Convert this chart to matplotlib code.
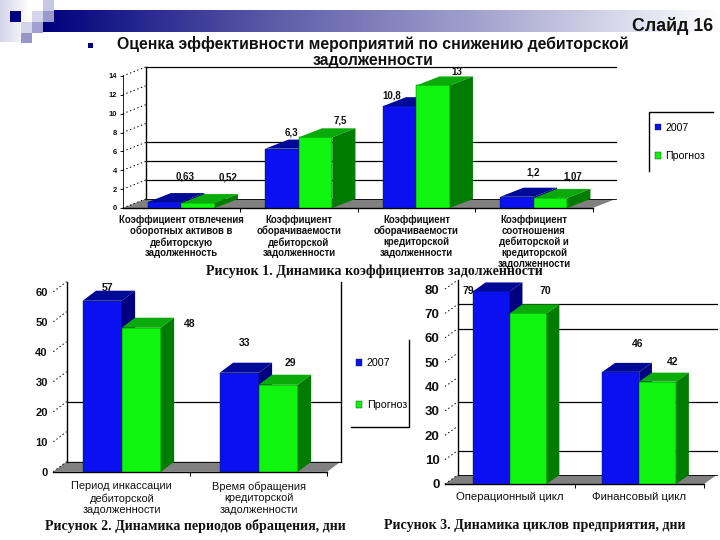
import numpy as np
import matplotlib
matplotlib.use("Agg")
import matplotlib.pyplot as plt
from matplotlib.patches import Polygon, Rectangle
from matplotlib.colors import LinearSegmentedColormap

W, H = 720, 540
SANS = "Liberation Sans"
SERIF = "Liberation Serif"

series_names = ["2007", "Прогноз"]

cats1 = ["Коэффициент отвлечения\nоборотных активов в\nдебиторскую\nзадолженность",
         "Коэффициент\nоборачиваемости\nдебиторской\nзадолженности",
         "Коэффициент\nоборачиваемости\nкредиторской\nзадолженности",
         "Коэффициент\nсоотношения\nдебиторской и\nкредиторской\nзадолженности"]
vals1_2007 = [0.63, 6.3, 10.8, 1.2]
vals1_prog = [0.52, 7.5, 13, 1.07]
text1_2007 = ["0,63", "6,3", "10,8", "1,2"]
text1_prog = ["0,52", "7,5", "13", "1,07"]
ticks1 = [0, 2, 4, 6, 8, 10, 12, 14]
grid1 = [2, 4, 6, 14]

cats2 = ["Период инкассации\nдебиторской\nзадолженности",
         "Время обращения\nкредиторской\nзадолженности"]
vals2_2007 = [57, 33]
vals2_prog = [48, 29]
ticks2 = [0, 10, 20, 30, 40, 50, 60]
grid2 = [20]

cats3 = ["Операционный цикл", "Финансовый цикл"]
vals3_2007 = [79, 46]
vals3_prog = [70, 42]
ticks3 = [0, 10, 20, 30, 40, 50, 60, 70, 80]
grid3 = [10, 30, 60, 70]

BLUE = ("#0a10f0", "#000a96", "#000080")
GREEN = ("#10f510", "#0aaa0a", "#007d00")
FLOOR = "#808080"

fig = plt.figure(figsize=(W / 100, H / 100), dpi=100, facecolor="white")

# Slide background layer, in pixel units
bg = fig.add_axes([0, 0, 1, 1], zorder=0)
cmap = LinearSegmentedColormap.from_list("band", ["#00007d", "#5a5aa8", "#a8a8d2", "#ffffff"])
bg.imshow(np.linspace(0, 1, 512)[None, :], extent=(43, 720, 32, 10), cmap=cmap,
          aspect="auto", zorder=1)
fade = LinearSegmentedColormap.from_list("fade", ["#d4d4ea", "#ffffff"])
bg.imshow(np.linspace(0, 1, 64)[None, :], extent=(0, 30, 42, 0), cmap=fade, aspect="auto", zorder=1)
bg.set_xlim(0, W)
bg.set_ylim(H, 0)
bg.axis("off")
for x, y, w, h, c in [(43, 0, 11, 10.5, "#c8c8e4"),
                      (10, 10.5, 11, 11, "#000080"), (32, 10.5, 11, 11, "#d4d4ea"), (43, 10.5, 11, 11, "#9a9acc"),
                      (21, 21.5, 11, 11, "#d4d4ea"), (32, 21.5, 11, 11, "#a0a0d0"),
                      (21, 32.5, 11, 10.5, "#9696c8")]:
    bg.add_patch(Rectangle((x, y), w, h, fc=c, ec="none", zorder=2))
bg.add_patch(Rectangle((87.5, 43), 5, 5, fc="#000080", ec="none"))
bg.text(713, 26, "Слайд 16", ha="right", va="center", family=SANS, weight="bold", fontsize=12.8, color="#111111")
bg.text(373, 44, "Оценка эффективности мероприятий по снижению дебиторской", ha="center", va="center",
        family=SANS, weight="bold", fontsize=11.45, color="#111111")
bg.text(373, 61, "задолженности", ha="center", va="center", family=SANS, weight="bold", fontsize=11.45, color="#111111")
for x, y, s in [(374.5, 271.5, "Рисунок 1. Динамика коэффициентов задолженности"),
                (195, 526, "Рисунок 2. Динамика периодов обращения, дни"),
                (534.5, 526, "Рисунок 3. Динамика циклов предприятия, дни")]:
    bg.text(x, y, s, ha="center", va="center", family=SERIF, weight="bold", fontsize=10.05, color="#111111")

# Partial legend frames
bg.plot([649, 649, 713], [171, 112, 112], color="black", lw=1)
bg.plot([351, 409, 409], [427, 427, 340], color="black", lw=1)


def chart(box, cats, s1, s2, ymax, ticks, grid, depth, tlabels, offs,
          tick_fs, tick_w, cat_fs, cat_w, lab_fs, lab_w, cat_pad, cat_ls, wall_right=False,
          lab_z=1, left_spine=False):
    x0, x1, ytop, y0 = box
    ax = fig.add_axes([x0 / W, 1 - y0 / H, (x1 - x0) / W, (y0 - ytop) / H], zorder=2)
    ax.patch.set_alpha(0)
    n = len(cats)
    ax.set_xlim(0, n)
    ax.set_ylim(0, ymax)
    dx = depth[0] / ((x1 - x0) / n)
    dy = depth[1] / ((y0 - ytop) / ymax)
    # floor
    ax.add_patch(Polygon([(0, 0), (dx, dy), (n + dx, dy), (n, 0)], fc=FLOOR, ec="none", clip_on=False, zorder=1))
    # walls and grid
    for v in grid:
        ax.plot([dx, n + dx], [v + dy, v + dy], color="black", lw=0.9, clip_on=False, zorder=1.2)
    wtop = ymax + dy
    ax.plot([dx, dx], [dy, wtop], color="black", lw=1, clip_on=False, zorder=1.2)
    ax.plot([dx, n + dx], [dy, dy], color="black", lw=0.6, clip_on=False, zorder=1.2)
    if wall_right:
        ax.plot([n + dx, n + dx], [dy, wtop], color="black", lw=1, clip_on=False, zorder=1.2)
    for v in ticks:
        ax.plot([0, dx], [v, v + dy], color="black", lw=0.7, ls=(0, (1.5, 2.5)), clip_on=False, zorder=1.1)
    # bars
    bw = 0.285
    xs = np.arange(n) + 0.5
    handles = []
    for k, (vals, cols) in enumerate(zip((s1, s2), (BLUE, GREEN))):
        pos = xs + (k - 0.5) * bw
        bars = ax.bar(pos, vals, width=bw, color=cols[0], edgecolor="#003000", linewidth=0.3, zorder=3 + k)
        handles.append(bars)
        for p, v in zip(pos, vals):
            l, r = p - bw / 2, p + bw / 2
            ax.add_patch(Polygon([(l, v), (l + dx, v + dy), (r + dx, v + dy), (r, v)], fc=cols[1], ec="none",
                                 clip_on=False, zorder=3 + k))
            ax.add_patch(Polygon([(r, 0), (r + dx, dy), (r + dx, v + dy), (r, v)], fc=cols[2], ec="none",
                                 clip_on=False, zorder=3 + k))
    # value labels, offset in pixels from the top of each bar
    allpos = [(xs[i] + (k - 0.5) * bw, (s1, s2)[k][i], tlabels[k][i], offs[k][i]) for k in range(2) for i in range(n)]
    for p, v, t, o in allpos:
        ax.annotate(t, (p, v), xytext=(o[0] * 0.72, o[1] * 0.72), textcoords="offset points", ha="center",
                    va="center", family=SANS, weight=lab_w, fontsize=lab_fs, color="#111111", zorder=lab_z,
                    annotation_clip=False)
    # axes furniture
    for s in ("top", "right"):
        ax.spines[s].set_visible(False)
    ax.spines["left"].set_visible(left_spine)
    ax.spines["left"].set_linewidth(0.6)
    ax.spines["bottom"].set_linewidth(1)
    ax.set_yticks(ticks)
    ax.set_yticklabels([str(t) for t in ticks], family=SANS, weight=tick_w, fontsize=tick_fs, color="#111111")
    ax.tick_params(axis="y", length=2 if left_spine else 0, width=0.6, pad=2 if left_spine else 4)
    ax.set_xticks(xs)
    ax.set_xticklabels(cats, family=SANS, weight=cat_w, fontsize=cat_fs, linespacing=cat_ls, color="#111111")
    ax.tick_params(axis="x", which="major", length=0, pad=cat_pad)
    ax.set_xticks(np.arange(1, n + 1), minor=True)
    ax.tick_params(axis="x", which="minor", length=3, width=0.7, direction="out")
    return ax, handles


offs1 = [[(20, 26), (9, 16), (-8, 11), (16, 24)], [(30, 26), (25, 17), (24, 13), (22, 21)]]
ax1, h1 = chart((122.7, 592.7, 76, 208), cats1, vals1_2007, vals1_prog, 14, ticks1, grid1, (23, 9),
                (text1_2007, text1_prog), offs1, 5.5, "bold", 6.9, "bold", 7, "bold", 5, 1.1,
                lab_z=6, left_spine=True)

offs2 = [[(5.5, 13), (5, 30)], [(48, 4), (12, 22)]]
ax2, h2 = chart((53.3, 327.3, 291.7, 471.7), cats2, vals2_2007, vals2_prog, 60, ticks2, grid2, (13.3, 10),
                ([str(v) for v in vals2_2007], [str(v) for v in vals2_prog]), offs2, 8, "bold", 7.9, "normal",
                7.5, "bold", 7, 1.2, wall_right=True)

offs3 = [[(-23, 0), (17, 28)], [(17, 22), (15, 20)]]
ax3, h3 = chart((445, 704, 289, 484), cats3, vals3_2007, vals3_prog, 80, ticks3, grid3, (12.7, 9),
                ([str(v) for v in vals3_2007], [str(v) for v in vals3_prog]), offs3, 9.5, "bold", 8.2, "normal",
                7.5, "bold", 6, 1.2)

# Legends
for hs, (lx, ly), fs, w, sp in [(h1, (655, 142), 7.6, "normal", 1.75), (h2, (356, 384), 7.7, "normal", 3.0)]:
    leg = ax1.legend(hs, series_names, loc="center left", bbox_to_anchor=(lx, ly), bbox_transform=bg.transData,
                     frameon=False, handlelength=0.6, handleheight=0.6, handletextpad=0.4, labelspacing=sp,
                     borderpad=0, borderaxespad=0, prop={"family": SANS, "size": fs, "weight": w})
    ax1.add_artist(leg)
    ax1.legend_ = None

fig.savefig("out.png", dpi=100, facecolor="white")
